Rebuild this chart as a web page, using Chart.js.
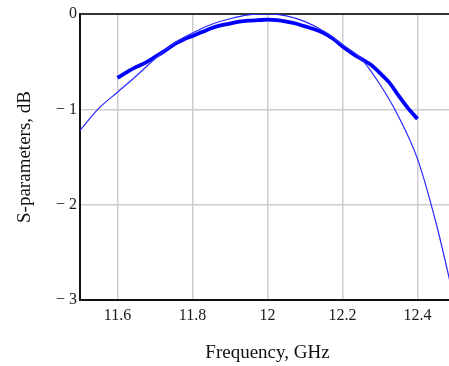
<!DOCTYPE html>
<html>
<head>
<meta charset="utf-8">
<script src="https://cdn.jsdelivr.net/npm/chart.js@4/dist/chart.umd.min.js"></script>
<style>
  html, body { margin: 0; padding: 0; background: #fff; overflow: hidden; }
  #wrap { position: relative; width: 460px; height: 366px; }
</style>
</head>
<body>
<div id="wrap"><canvas id="sp"></canvas></div>
<script>
// simulated response (thin line)
var simFreq = [11.5, 11.55, 11.6, 11.65, 11.7, 11.75, 11.8, 11.85, 11.9, 11.95, 12.0,
               12.05, 12.1, 12.15, 12.2, 12.25, 12.3, 12.35, 12.4, 12.45, 12.485, 12.5];
var simDb   = [-1.22, -0.99, -0.82, -0.65, -0.47, -0.31, -0.20, -0.11, -0.05, -0.01, 0.0,
               -0.02, -0.08, -0.18, -0.32, -0.47, -0.74, -1.08, -1.52, -2.2, -2.78, -3.05];

// measured response (thick line)
var measFreq = [11.6, 11.625, 11.65, 11.675, 11.7, 11.725, 11.75, 11.775, 11.8, 11.825, 11.85,
                11.875, 11.9, 11.925, 11.95, 11.975, 12.0, 12.025, 12.05, 12.075, 12.1,
                12.125, 12.15, 12.175, 12.2, 12.225, 12.25, 12.275, 12.3, 12.325, 12.35,
                12.375, 12.4];
var measDb   = [-0.67, -0.61, -0.555, -0.51, -0.45, -0.39, -0.32, -0.27, -0.23, -0.19, -0.15,
                -0.12, -0.10, -0.08, -0.07, -0.065, -0.06, -0.065, -0.08, -0.10, -0.13,
                -0.16, -0.20, -0.26, -0.34, -0.41, -0.47, -0.53, -0.62, -0.72, -0.86,
                -0.99, -1.10];

var xTicks = [11.6, 11.8, 12, 12.2, 12.4];
var yTicks = [-3, -2, -1, 0];

function pts(xs, ys) {
  return xs.map(function(x, i){ return { x: x, y: ys[i] }; });
}

var serif = "'Liberation Serif', 'DejaVu Serif', serif";

new Chart(document.getElementById('sp'), {
  type: 'line',
  data: {
    datasets: [
      { label: 'Simulated', data: pts(simFreq, simDb), borderColor: 'rgb(40,40,255)',
        borderWidth: 1.2, pointRadius: 0, cubicInterpolationMode: 'monotone', fill: false },
      { label: 'Measured', data: pts(measFreq, measDb), borderColor: '#0000ff',
        borderWidth: 3.8, pointRadius: 0, tension: 0.3, fill: false }
    ]
  },
  options: {
    responsive: true, maintainAspectRatio: false, animation: false,
    layout: { padding: { top: 14, right: 5, left: 0, bottom: 0 } },
    plugins: { legend: { display: false }, tooltip: { enabled: false } },
    scales: {
      x: {
        type: 'linear', min: 11.5, max: 12.5,
        afterBuildTicks: function(s){ s.ticks = xTicks.map(function(v){ return { value: v }; }); },
        afterFit: function(s){ s.height = 66; },
        border: { color: '#111', width: 2 },
        grid: { color: '#cdcdcd', lineWidth: 1.5, drawTicks: false },
        ticks: { color: '#1a1a1a', padding: 6, maxRotation: 0,
                 font: { family: serif, size: 16 },
                 callback: function(v){ return String(v); } },
        title: { display: true, text: 'Frequency, GHz', color: '#111',
                 font: { family: serif, size: 19 }, padding: { top: 0, bottom: 2 } }
      },
      y: {
        type: 'linear', min: -3, max: 0,
        afterBuildTicks: function(s){ s.ticks = yTicks.map(function(v){ return { value: v }; }); },
        afterFit: function(s){ s.width = 80; },
        border: { color: '#111', width: 2 },
        grid: {
          drawTicks: false,
          color: function(c){ return c.tick && c.tick.value === 0 ? '#333' : '#cdcdcd'; },
          lineWidth: function(c){ return c.tick && c.tick.value === 0 ? 2 : 1.5; }
        },
        ticks: { color: '#1a1a1a', padding: 3,
                 font: { family: serif, size: 16 },
                 callback: function(v){ return v === 0 ? '0' : '\u2212 ' + Math.abs(v); } },
        title: { display: true, text: 'S-parameters, dB', color: '#111',
                 font: { family: serif, size: 19 }, padding: { top: 14, bottom: 0 } }
      }
    }
  }
});
</script>
</body>
</html>
